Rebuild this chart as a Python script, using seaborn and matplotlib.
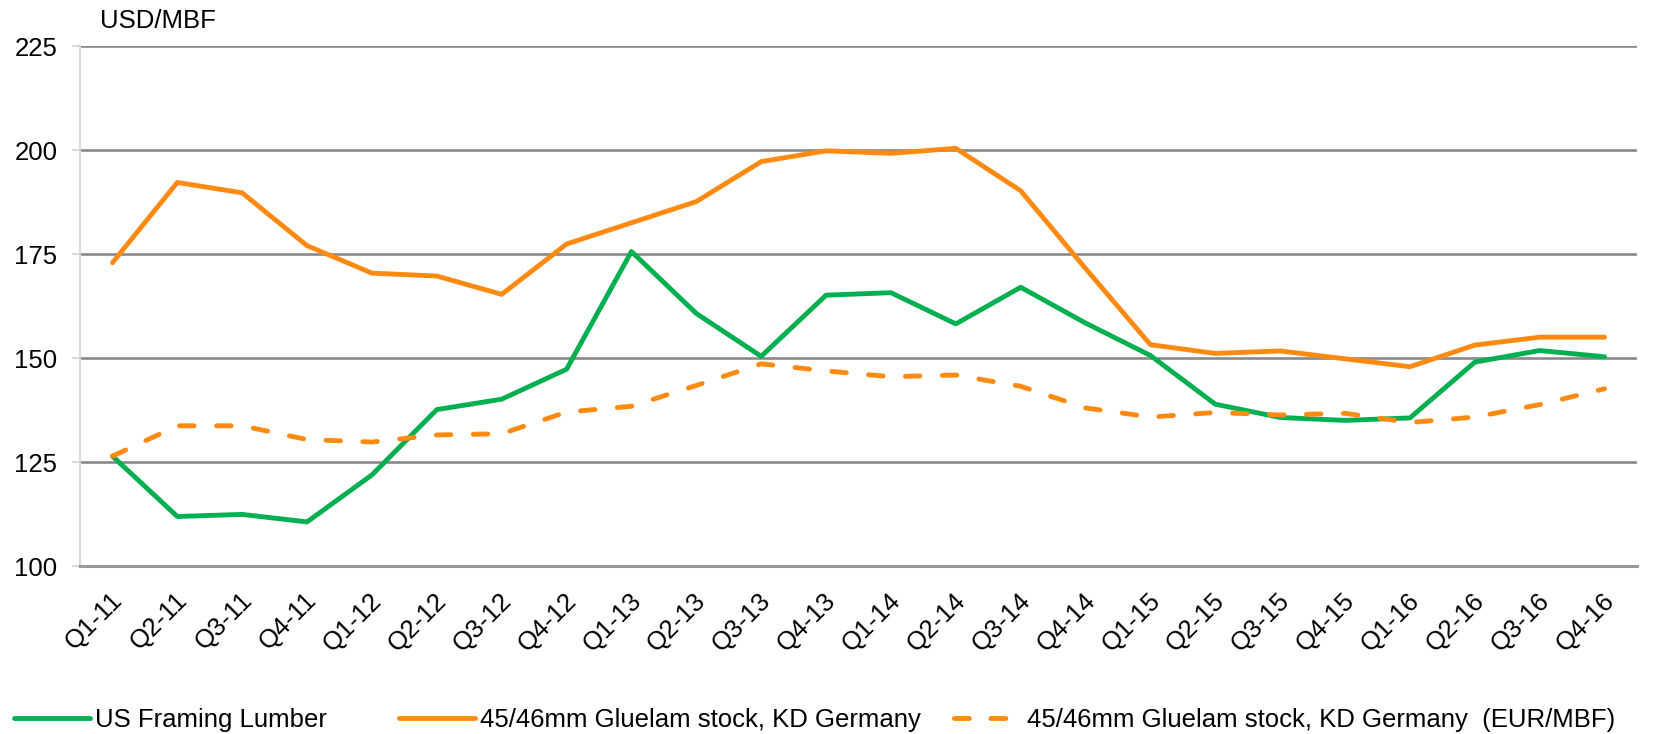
import numpy as np
import pandas as pd
import matplotlib
matplotlib.use("Agg")
import matplotlib.pyplot as plt
import matplotlib.transforms as mtransforms
from matplotlib.lines import Line2D
import seaborn as sns

# Quarterly price series
quarters = [
    "Q1-11", "Q2-11", "Q3-11", "Q4-11",
    "Q1-12", "Q2-12", "Q3-12", "Q4-12",
    "Q1-13", "Q2-13", "Q3-13", "Q4-13",
    "Q1-14", "Q2-14", "Q3-14", "Q4-14",
    "Q1-15", "Q2-15", "Q3-15", "Q4-15",
    "Q1-16", "Q2-16", "Q3-16", "Q4-16",
]

us_framing_lumber = [
    126.4, 111.9, 112.4, 110.6, 121.9, 137.6, 140.1, 147.3,
    175.6, 160.7, 150.4, 165.1, 165.7, 158.2, 167.0, 158.4,
    150.6, 138.9, 135.7, 135.0, 135.6, 149.0, 151.8, 150.3,
]
gluelam_usd = [
    172.9, 192.2, 189.7, 177.0, 170.4, 169.7, 165.3, 177.4,
    182.5, 187.6, 197.2, 199.8, 199.2, 200.4, 190.2, 171.5,
    153.2, 151.1, 151.7, 149.8, 147.9, 153.1, 155.0, 155.0,
]
gluelam_eur = [
    126.4, 133.7, 133.7, 130.4, 129.8, 131.5, 131.8, 137.0,
    138.4, 143.4, 148.6, 146.9, 145.5, 145.9, 143.2, 138.0,
    135.8, 136.9, 136.3, 136.7, 134.5, 135.8, 138.8, 142.6,
]

series_names = [
    "US Framing Lumber",
    "45/46mm Gluelam stock, KD Germany",
    "45/46mm Gluelam stock, KD Germany  (EUR/MBF)",
]
y_ticks = [100, 125, 150, 175, 200, 225]

GREEN = "#00B050"
ORANGE = "#FF8A12"
LW = 3.5
DASH = (3.0, 4.6)
# legend swatch: leading gap, then two dashes
LEGEND_DASH = (10.6, (3.1, 4.4, 3.1, 4.7))

sns.set_theme(style="white")
plt.rcParams["font.family"] = ["Liberation Sans", "DejaVu Sans"]
plt.rcParams["text.color"] = "black"
FS = 18.5

fig = plt.figure(figsize=(16.55, 7.34), dpi=100, facecolor="white")
ax = fig.add_axes([80 / 1655, 1 - 566 / 734, (1637 - 80) / 1655, (566 - 46) / 734])

pos = np.arange(len(quarters))
df = pd.DataFrame({
    "pos": np.tile(pos, 3),
    "price": us_framing_lumber + gluelam_usd + gluelam_eur,
    "series": np.repeat(series_names, len(quarters)),
})

palette = {series_names[0]: GREEN, series_names[1]: ORANGE, series_names[2]: ORANGE}
sns.lineplot(data=df, x="pos", y="price", hue="series", palette=palette,
             hue_order=series_names, sort=False, estimator=None,
             linewidth=LW, legend=False, ax=ax, zorder=3)

for ln in ax.lines:
    ln.set_solid_capstyle("round")
    ln.set_solid_joinstyle("round")
    ln.set_dash_capstyle("round")
ax.lines[2].set_dashes(DASH)

# Axes styling
ax.set_xlim(-0.5, len(quarters) - 0.5)
ax.set_ylim(100, 225)
ax.set_yticks(y_ticks)
ax.set_yticklabels([str(v) for v in y_ticks], fontsize=FS, color="black")
ax.set_xticks(pos)
ax.set_xticklabels(quarters, fontsize=FS, color="black", rotation=45,
                   ha="right", va="center", rotation_mode="anchor")
ax.set_xticks(np.arange(-0.5, len(quarters)), minor=True)
ax.tick_params(axis="x", which="major", length=0, pad=22)
ax.tick_params(axis="x", which="minor", length=6, width=2.0, color="#9a9a9a", direction="out")
ax.tick_params(axis="y", which="major", length=5.8, width=1.5, color="#d9d9d9",
               pad=10.5, direction="out", left=True)

offset = mtransforms.ScaledTranslation(6 / 100, 0, fig.dpi_scale_trans)
for lbl in ax.get_xticklabels():
    lbl.set_transform(lbl.get_transform() + offset)

ax.set_xlabel("")
ax.set_ylabel("")
ax.yaxis.grid(True, color="#898989", linewidth=1.9)
ax.xaxis.grid(False)
ax.set_axisbelow(True)
for side in ("top", "right"):
    ax.spines[side].set_visible(False)
ax.spines["left"].set_color("#d9d9d9")
ax.spines["left"].set_linewidth(1.5)
ax.spines["bottom"].set_color("#9a9a9a")
ax.spines["bottom"].set_linewidth(2.2)
ax.spines["bottom"].set_zorder(2.5)

fig.text(100 / 1655, 1 - 21 / 734, "USD/MBF", fontsize=FS, ha="left", va="center",
         color="black")

# Legend entries along the bottom edge
legend_x = [14, 399, 931]
legend_len = [2.95, 2.95, 2.92]
legend_pad = [0.2, 0.2, 0.8]
handles = [
    Line2D([], [], color=GREEN, linewidth=LW, solid_capstyle="round"),
    Line2D([], [], color=ORANGE, linewidth=LW, solid_capstyle="round"),
    Line2D([], [], color=ORANGE, linewidth=LW, linestyle=LEGEND_DASH,
           dash_capstyle="round"),
]
for h, name, x, hl, hp in zip(handles, series_names, legend_x, legend_len, legend_pad):
    leg = fig.legend(handles=[h], labels=[name], loc="center left",
                     bbox_to_anchor=(x / 1655, 1 - 720 / 734), frameon=False,
                     fontsize=FS, borderpad=0, borderaxespad=0,
                     handlelength=hl, handletextpad=hp)
    for t in leg.get_texts():
        t.set_color("black")

fig.savefig("out.png", dpi=100, facecolor="white")
